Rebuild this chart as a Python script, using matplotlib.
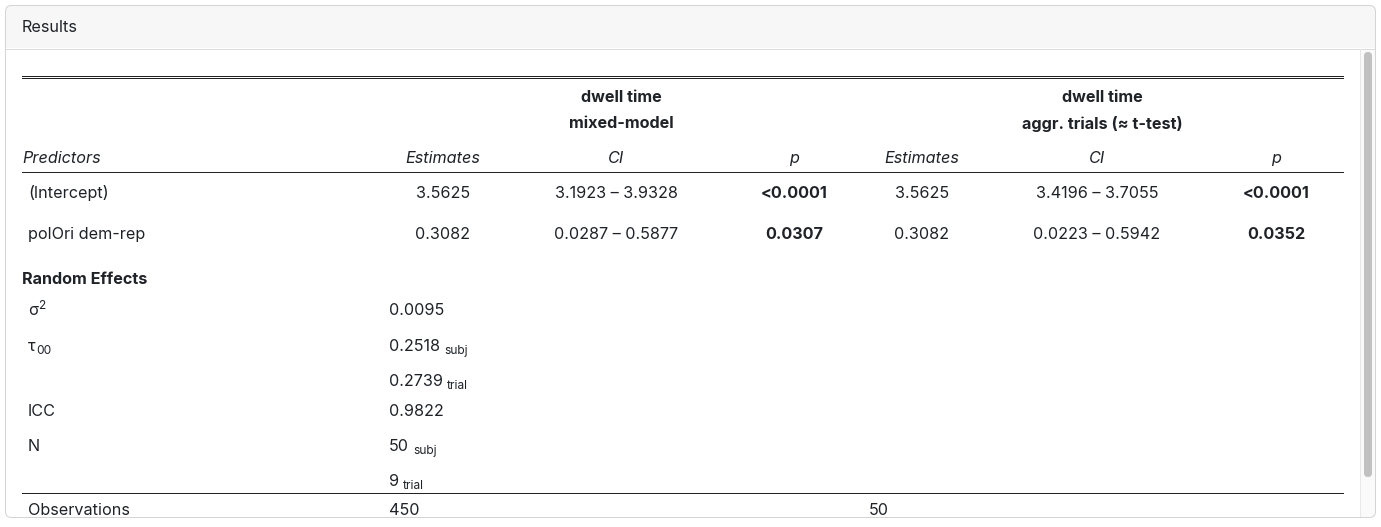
"""Mixed-model results table (sjPlot-style) rendered with matplotlib."""
import matplotlib
matplotlib.use('Agg')
import matplotlib.pyplot as plt
from matplotlib.patches import FancyBboxPatch, Rectangle

plt.rcParams['font.family'] = ['Inter', 'DejaVu Sans']

# --- table contents ---
panel_title = 'Results'
group_titles = [('dwell time', 'mixed-model'), ('dwell time', 'aggr. trials (≈ t-test)')]
col_heads = ['Estimates', 'CI', 'p', 'Estimates', 'CI', 'p']
predictors = ['(Intercept)', 'polOri dem-rep']
est_mm = ['3.5625', '0.3082']
ci_mm = ['3.1923 – 3.9328', '0.0287 – 0.5877']
p_mm = ['<0.0001', '0.0307']
est_tt = ['3.5625', '0.3082']
ci_tt = ['3.4196 – 3.7055', '0.0223 – 0.5942']
p_tt = ['<0.0001', '0.0352']
re_names = ['σ', 'τ', '', 'ICC', 'N', '']
re_name_marks = ['2', '00', '', '', '', '']   # superscript for σ, subscript for τ
re_values = ['0.0095', '0.2518', '0.2739', '0.9822', '50', '9']
re_subs = ['', 'subj', 'trial', '', 'subj', 'trial']
n_obs = ['450', '50']

# --- layout (pixel units, y grows downward) ---
W, H = 1381, 527
FS = 16.2 * 0.72
FS_SMALL = 12 * 0.72
TXT = '#1f2328'
col_x = [443, 616, 794, 922, 1097, 1276]
group_x = [621, 1102]
row_base = [198, 239]
re_base = [315, 351, 386, 416, 451, 486]
left, right = 22, 1343
lw = 0.72

fig = plt.figure(figsize=(W / 100, H / 100), dpi=100)
ax = fig.add_axes([0, 0, 1, 1])
ax.set_xlim(0, W)
ax.set_ylim(H, 0)
ax.axis('off')

# panel frame + header strip
ax.add_patch(FancyBboxPatch((5.5, 5.5), 1370, 512, boxstyle='round,pad=0,rounding_size=6',
                            fc='white', ec='none', zorder=0))
ax.add_patch(FancyBboxPatch((5.5, 5.5), 1370, 42.5, boxstyle='round,pad=0,rounding_size=6',
                            fc='#f7f7f7', ec='none', zorder=1))
ax.add_patch(Rectangle((5.5, 25), 1370, 23, fc='#f7f7f7', ec='none', zorder=1))
ax.plot([5.5, 1375.5], [48.5, 48.5], color='#dcdcdc', lw=lw, zorder=2)
ax.add_patch(FancyBboxPatch((5.5, 5.5), 1370, 512, boxstyle='round,pad=0,rounding_size=6',
                            fc='none', ec='#d4d4d4', lw=lw, zorder=5))
ax.text(22, 31.5, panel_title, fontsize=FS, color=TXT, va='baseline', ha='left')

# scrollbar
ax.add_patch(Rectangle((1360, 49), 15.5, 468, fc='#fafafa', ec='none', zorder=1))
ax.plot([1360.5, 1360.5], [49, 517], color='#e8e8e8', lw=lw, zorder=2)
ax.add_patch(FancyBboxPatch((1364, 52), 8, 425, boxstyle='round,pad=0,rounding_size=4',
                            fc='#c1c1c1', ec='none', zorder=2))

# rules
ax.plot([left, right], [75.5, 75.5], color='#222222', lw=lw)
ax.plot([left, right], [78, 78], color='#222222', lw=lw)
ax.plot([left, right], [171.5, 171.5], color='#222222', lw=lw)
ax.plot([left, right], [492.5, 492.5], color='#222222', lw=lw)

# group titles
for gx, (l1, l2) in zip(group_x, group_titles):
    ax.text(gx, 102.5, l1, fontsize=FS, fontweight='bold', color=TXT, ha='center', va='baseline')
    ax.text(gx, 128.5, l2, fontsize=FS, fontweight='bold', color=TXT, ha='center', va='baseline')

# column heads
ax.text(left, 163, 'Predictors', fontsize=FS, style='italic', color=TXT, va='baseline')
for cx, h in zip(col_x, col_heads):
    ax.text(cx, 163, h, fontsize=FS, style='italic', color=TXT, ha='center', va='baseline')

# fixed effects rows
for i, name in enumerate(predictors):
    y = row_base[i]
    ax.text(28, y, name, fontsize=FS, color=TXT, va='baseline')
    cells = [est_mm[i], ci_mm[i], p_mm[i], est_tt[i], ci_tt[i], p_tt[i]]
    for j, (cx, c) in enumerate(zip(col_x, cells)):
        ax.text(cx, y, c, fontsize=FS, color=TXT, ha='center', va='baseline',
                fontweight='bold' if j in (2, 5) else 'normal')

# random effects
ax.text(left, 284, 'Random Effects', fontsize=FS, fontweight='bold', color=TXT, va='baseline')
fig.canvas.draw()
inv = ax.transData.inverted()
for y, nm, mark, val, sub in zip(re_base, re_names, re_name_marks, re_values, re_subs):
    if nm:
        t = ax.text(28, y, nm, fontsize=FS, color=TXT, va='baseline')
        if mark:
            x1 = inv.transform(t.get_window_extent(fig.canvas.get_renderer()).get_points())[1, 0]
            dy = -6 if nm == 'σ' else 3
            ax.text(x1 + 0.5, y + dy, mark, fontsize=FS_SMALL, color=TXT, va='baseline')
    v = ax.text(389, y, val, fontsize=FS, color=TXT, va='baseline')
    if sub:
        x1 = inv.transform(v.get_window_extent(fig.canvas.get_renderer()).get_points())[1, 0]
        ax.text(x1 + 4, y + 3, sub, fontsize=FS_SMALL, color=TXT, va='baseline')

# observations
ax.text(28, 515, 'Observations', fontsize=FS, color=TXT, va='baseline')
ax.text(389, 515, n_obs[0], fontsize=FS, color=TXT, va='baseline')
ax.text(869, 515, n_obs[1], fontsize=FS, color=TXT, va='baseline')

fig.savefig('out.png', dpi=100)
